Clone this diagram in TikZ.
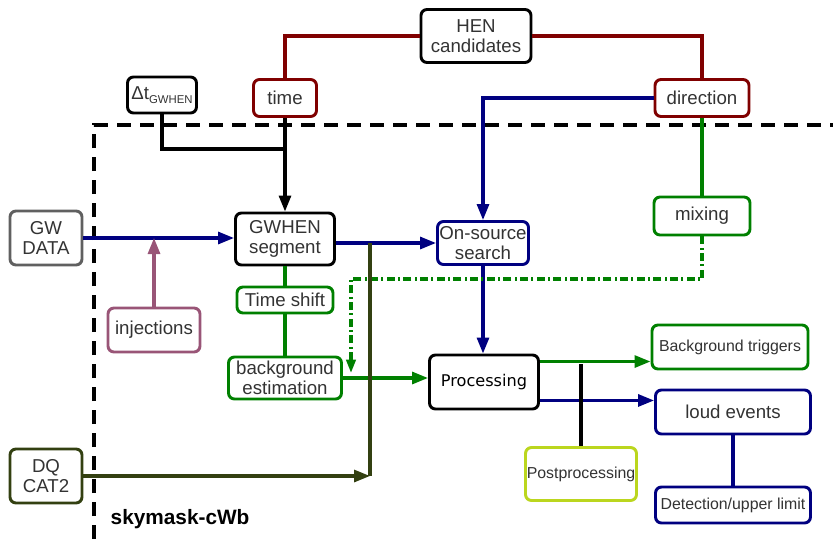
\documentclass[tikz,border=0pt]{standalone}
\usepackage{fontspec}
\setmainfont{Liberation Sans}
\newfontfamily\procfont{DejaVu Sans}
\usetikzlibrary{calc, positioning}
\usetikzlibrary{arrows.meta}

\definecolor{hred}{RGB}{128,0,0}
\definecolor{hblue}{RGB}{0,0,128}
\definecolor{hgreen}{RGB}{0,128,0}
\definecolor{hpurple}{RGB}{153,85,119}
\definecolor{hgray}{RGB}{96,96,96}
\definecolor{holive}{RGB}{51,64,17}
\definecolor{hlime}{RGB}{187,214,30}
\definecolor{txtgray}{RGB}{51,51,51}

\begin{document}
\begin{tikzpicture}[x=0.75pt,y=-0.75pt,
  box/.style={draw, rounded corners=4.5pt, line width=2.2pt, fill=white, inner sep=0pt,
    align=center, text=txtgray, font=\fontsize{14}{15}\selectfont},
  smalltext/.style={font=\fontsize{11.9}{13}\selectfont},
  link/.style={line width=2.3pt},
  arr/.style={link, -{Triangle[length=12pt,width=9pt]}},
  dashdot/.style={line width=2.3pt, dash pattern=on 6pt off 2.5pt on 1.5pt off 2.5pt}]
\useasboundingbox (0,0) rectangle (833,539);

\draw[line width=2.3pt, dash pattern=on 10.5pt off 6.75pt] (94,539) -- (94,125) -- (833,125);

\node[box, minimum width=82.5pt, minimum height=39.75pt] (hen) at (476,36) {HEN\\candidates};
\node[box, minimum width=51.75pt, minimum height=27pt] (dt) at (162,95)
  {Δt\raisebox{-3.5pt}{\fontsize{8.5}{9}\selectfont GWHEN}};
\node[box, draw=hred, minimum width=47.25pt, minimum height=27.75pt] (time) at (285,98) {time};
\node[box, draw=hred, minimum width=70.5pt, minimum height=27.75pt] (dir) at (702,98) {direction};

\node[box, draw=hgray, minimum width=54pt, minimum height=40.5pt] (gwdata) at (46,238) {GW\\DATA};
\node[box, minimum width=74.25pt, minimum height=39pt] (seg) at (285,239) {GWHEN\\segment};
\node[box, draw=hblue, minimum width=68.25pt, minimum height=32.25pt] (onsrc) at (483,243) {On-source\\search};
\node[box, draw=hgreen, minimum width=72pt, minimum height=28.5pt] (mix) at (702,216) {mixing};

\node[box, draw=hpurple, minimum width=69pt, minimum height=33pt] (inj) at (154,330) {injections};
\node[box, draw=hgreen, minimum width=72pt, minimum height=19.5pt] (tshift) at (285,300) {Time shift};
\node[box, draw=hgreen, minimum width=84.75pt, minimum height=31.5pt] (bkg) at (285,378) {background\\estimation};
\node[box, minimum width=81.75pt, minimum height=40.5pt, text=black, font=\procfont\fontsize{12.1}{13}\selectfont] (proc) at (484,382) {Processing};

\node[box, smalltext, draw=hgreen, minimum width=117pt, minimum height=33pt] (bgtrig) at (730,347) {Background triggers};
\node[box, draw=hblue, minimum width=116.25pt, minimum height=33pt] (loud) at (733,412) {loud events};
\node[box, smalltext, draw=hlime, minimum width=83.25pt, minimum height=39.75pt] (post) at (581,474) {Postprocessing};
\node[box, smalltext, draw=hblue, minimum width=116.25pt, minimum height=27pt] (detect) at (733,505) {Detection/upper limit};
\node[box, draw=holive, minimum width=54pt, minimum height=40.5pt] (dq) at (46,476) {DQ\\CAT2};

\node[anchor=base west, font=\bfseries\fontsize{15.6}{16}\selectfont, text=black] (title) at (106,524) {skymask-cWb};

\coordinate (dtjoin) at (285,149);
\coordinate (mixc) at (351,279);
\coordinate (mixend) at (351,373);
\coordinate (dqjoin) at (370,476);
\coordinate (p1) at ($(proc.north east)+(0,8)$);
\coordinate (p2) at ($(proc.south east)+(0,-10)$);

\draw[link, hred] (hen.west) -| (time.north);
\draw[link, hred] (hen.east) -| (dir.north);
\draw[link] (dt.south) |- (dtjoin);
\draw[arr] (time.south) -- (seg.north);

\draw[arr, hblue] (gwdata.east) -- (gwdata.east -| seg.west);
\draw[arr, hpurple] (inj.north) -- (inj.north |- gwdata.east);
\draw[arr, hblue] (seg.east |- onsrc) -- (onsrc.west);
\draw[arr, hblue] (dir.west) -| (onsrc.north);
\draw[arr, hblue] (onsrc.south) -- (onsrc.south |- proc.north);
\draw[link, hgreen] (dir.south) -- (mix.north);
\draw[dashdot, hgreen, -{Triangle[length=10pt,width=7pt]}] (mix.south) |- (mixc) -- (mixend);

\draw[link, hgreen] (seg.south) -- (tshift.north);
\draw[link, hgreen] (tshift.south) -- (bkg.north);
\draw[arr, hgreen] (bkg.east) -- (bkg.east -| proc.west);

\draw[arr, holive] (dq.east) -- (dqjoin);
\draw[holive, line width=2.8pt] (dqjoin) -- (dqjoin |- onsrc);

\draw[arr, hgreen] (p1) -- (p1 -| bgtrig.west);
\draw[arr, hblue] (p2) -- (p2 -| loud.west);
\draw[line width=3pt] (post.north) -- ($(post.north |- p1)+(0,2)$);
\draw[link, hblue] (loud.south) -- (detect.north);
\end{tikzpicture}
\end{document}
